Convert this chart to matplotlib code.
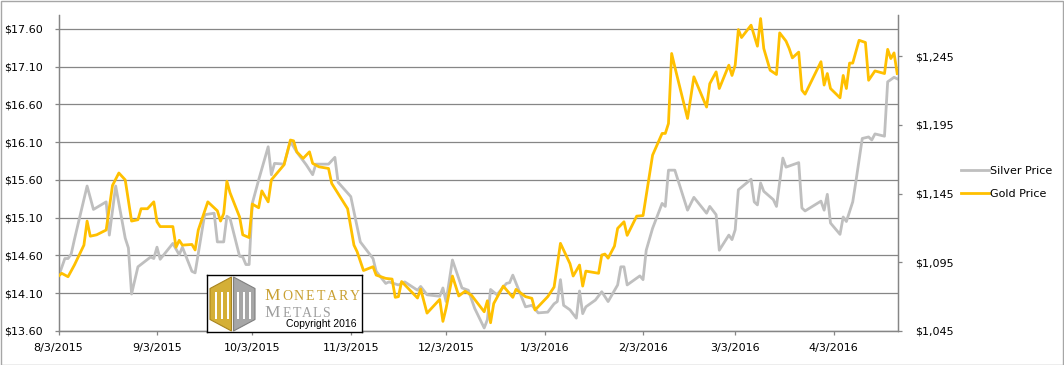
import numpy as np
import pandas as pd
import matplotlib
matplotlib.use("Agg")
import matplotlib.pyplot as plt
import matplotlib.dates as mdates
from matplotlib.patches import Polygon, Rectangle

# silver price (left axis)
silver_dates = [
    "2015-08-03", "2015-08-05", "2015-08-06", "2015-08-07", "2015-08-08", "2015-08-12", "2015-08-14",
    "2015-08-18", "2015-08-19", "2015-08-21", "2015-08-24", "2015-08-25", "2015-08-26", "2015-08-28",
    "2015-09-01", "2015-09-02", "2015-09-03", "2015-09-04", "2015-09-08", "2015-09-10", "2015-09-11",
    "2015-09-14", "2015-09-15", "2015-09-18", "2015-09-21", "2015-09-22", "2015-09-24", "2015-09-25",
    "2015-09-26", "2015-09-29", "2015-09-30", "2015-10-01", "2015-10-02", "2015-10-03", "2015-10-05",
    "2015-10-08", "2015-10-09", "2015-10-10", "2015-10-13", "2015-10-15", "2015-10-17", "2015-10-20",
    "2015-10-22", "2015-10-23", "2015-10-27", "2015-10-29", "2015-10-30", "2015-11-03", "2015-11-06",
    "2015-11-10", "2015-11-11", "2015-11-14", "2015-11-15", "2015-11-18", "2015-11-20", "2015-11-24",
    "2015-11-25", "2015-11-27", "2015-12-01", "2015-12-02", "2015-12-03", "2015-12-05", "2015-12-08",
    "2015-12-10", "2015-12-12", "2015-12-15", "2015-12-16", "2015-12-17", "2015-12-19", "2015-12-22",
    "2015-12-23", "2015-12-24", "2015-12-28", "2015-12-30", "2016-01-01", "2016-01-04", "2016-01-06",
    "2016-01-07", "2016-01-08", "2016-01-09", "2016-01-11", "2016-01-13", "2016-01-14", "2016-01-15",
    "2016-01-16", "2016-01-19", "2016-01-21", "2016-01-23", "2016-01-26", "2016-01-27", "2016-01-28",
    "2016-01-29", "2016-02-02", "2016-02-03", "2016-02-04", "2016-02-06", "2016-02-09", "2016-02-10",
    "2016-02-11", "2016-02-13", "2016-02-17", "2016-02-19", "2016-02-23", "2016-02-24", "2016-02-26",
    "2016-02-27", "2016-03-01", "2016-03-02", "2016-03-03", "2016-03-04", "2016-03-08", "2016-03-09",
    "2016-03-10", "2016-03-11", "2016-03-12", "2016-03-15", "2016-03-16", "2016-03-18", "2016-03-19",
    "2016-03-23", "2016-03-24", "2016-03-25", "2016-03-30", "2016-03-31", "2016-04-01", "2016-04-02",
    "2016-04-05", "2016-04-06", "2016-04-07", "2016-04-09", "2016-04-10", "2016-04-12", "2016-04-14",
    "2016-04-15", "2016-04-16", "2016-04-19", "2016-04-20", "2016-04-22", "2016-04-23",
]
silver_price = [
    14.32, 14.56, 14.56, 14.62, 14.81, 15.52, 15.21,
    15.31, 14.87, 15.52, 14.83, 14.70, 14.09, 14.45,
    14.58, 14.56, 14.71, 14.55, 14.76, 14.61, 14.71,
    14.39, 14.37, 15.14, 15.16, 14.78, 14.78, 15.12,
    15.09, 14.59, 14.58, 14.48, 14.48, 15.29, 15.60,
    16.04, 15.67, 15.82, 15.81, 16.11, 15.97, 15.80,
    15.67, 15.81, 15.81, 15.90, 15.57, 15.38, 14.78,
    14.56, 14.39, 14.23, 14.25, 14.21, 14.25, 14.14,
    14.19, 14.08, 14.06, 14.17, 13.99, 14.54, 14.17,
    14.14, 13.90, 13.64, 13.75, 14.15, 14.08, 14.23,
    14.24, 14.34, 13.92, 13.94, 13.84, 13.85, 13.96,
    13.99, 14.28, 13.94, 13.88, 13.77, 14.13, 13.83,
    13.92, 14.01, 14.12, 13.99, 14.21, 14.45, 14.45,
    14.21, 14.33, 14.28, 14.67, 14.96, 15.29, 15.25,
    15.73, 15.73, 15.20, 15.37, 15.16, 15.25, 15.14,
    14.67, 14.87, 14.81, 14.94, 15.47, 15.61, 15.31,
    15.27, 15.56, 15.45, 15.34, 15.25, 15.89, 15.77,
    15.83, 15.23, 15.19, 15.32, 15.20, 15.41, 15.03,
    14.88, 15.11, 15.05, 15.31, 15.58, 16.15, 16.17,
    16.13, 16.21, 16.18, 16.90, 16.96, 16.94,
]

# gold price (right axis)
gold_dates = [
    "2015-08-03", "2015-08-04", "2015-08-06", "2015-08-08", "2015-08-11", "2015-08-12", "2015-08-13",
    "2015-08-15", "2015-08-18", "2015-08-20", "2015-08-22", "2015-08-24", "2015-08-26", "2015-08-28",
    "2015-08-29", "2015-08-31", "2015-09-02", "2015-09-03", "2015-09-04", "2015-09-08", "2015-09-09",
    "2015-09-10", "2015-09-11", "2015-09-14", "2015-09-15", "2015-09-16", "2015-09-19", "2015-09-22",
    "2015-09-23", "2015-09-24", "2015-09-25", "2015-09-26", "2015-09-29", "2015-09-30", "2015-10-02",
    "2015-10-03", "2015-10-05", "2015-10-06", "2015-10-08", "2015-10-09", "2015-10-13", "2015-10-15",
    "2015-10-16", "2015-10-17", "2015-10-19", "2015-10-21", "2015-10-22", "2015-10-24", "2015-10-27",
    "2015-10-28", "2015-10-30", "2015-11-02", "2015-11-04", "2015-11-05", "2015-11-07", "2015-11-10",
    "2015-11-11", "2015-11-14", "2015-11-16", "2015-11-17", "2015-11-18", "2015-11-19", "2015-11-24",
    "2015-11-25", "2015-11-27", "2015-12-01", "2015-12-02", "2015-12-03", "2015-12-05", "2015-12-07",
    "2015-12-09", "2015-12-11", "2015-12-15", "2015-12-16", "2015-12-17", "2015-12-18", "2015-12-21",
    "2015-12-24", "2015-12-25", "2015-12-28", "2015-12-30", "2015-12-31", "2016-01-04", "2016-01-06",
    "2016-01-08", "2016-01-11", "2016-01-12", "2016-01-14", "2016-01-15", "2016-01-16", "2016-01-20",
    "2016-01-21", "2016-01-22", "2016-01-23", "2016-01-25", "2016-01-26", "2016-01-28", "2016-01-29",
    "2016-02-01", "2016-02-03", "2016-02-06", "2016-02-09", "2016-02-10", "2016-02-11", "2016-02-12",
    "2016-02-13", "2016-02-17", "2016-02-19", "2016-02-23", "2016-02-24", "2016-02-26", "2016-02-27",
    "2016-03-01", "2016-03-02", "2016-03-03", "2016-03-04", "2016-03-05", "2016-03-08", "2016-03-10",
    "2016-03-11", "2016-03-12", "2016-03-14", "2016-03-16", "2016-03-17", "2016-03-19", "2016-03-20",
    "2016-03-21", "2016-03-23", "2016-03-24", "2016-03-25", "2016-03-30", "2016-03-31", "2016-04-01",
    "2016-04-02", "2016-04-05", "2016-04-06", "2016-04-07", "2016-04-08", "2016-04-09", "2016-04-11",
    "2016-04-13", "2016-04-14", "2016-04-16", "2016-04-19", "2016-04-20", "2016-04-21", "2016-04-22",
    "2016-04-23",
]
gold_price = [
    1085, 1087, 1084.5, 1093, 1107.5, 1125, 1114,
    1115, 1118.5, 1151, 1160, 1155, 1125, 1126,
    1134, 1134, 1139, 1124.5, 1121, 1121, 1106,
    1111, 1107.5, 1108, 1104, 1118.5, 1139, 1132.5,
    1125, 1130.5, 1154, 1145.6, 1128, 1115, 1113,
    1137.4, 1134.7, 1147, 1139, 1155, 1166, 1184,
    1183.4, 1175.4, 1170.6, 1175.4, 1167, 1164.5, 1163.3,
    1152.4, 1145, 1134, 1107.5, 1102.7, 1089, 1091.8,
    1085.7, 1083.3, 1082.8, 1069.5, 1070, 1081, 1069,
    1075.5, 1058, 1068, 1052, 1061.5, 1085, 1070.5,
    1074, 1071, 1059, 1067, 1051, 1065, 1077.7,
    1069.5, 1075.3, 1070, 1068.8, 1060.3, 1070, 1077,
    1108.8, 1094, 1085, 1093, 1077.7, 1088.6, 1087,
    1100.3, 1101, 1098, 1106.8, 1119.7, 1124.5, 1114.6,
    1128.6, 1129, 1173, 1188.8, 1188.8, 1196, 1247,
    1237.2, 1199.7, 1230, 1208, 1225, 1233.6, 1221.5,
    1238.5, 1231, 1238.5, 1264.4, 1258.6, 1267.6, 1252.3,
    1272.4, 1250.6, 1234.8, 1231.7, 1262, 1256, 1250.6,
    1243.8, 1248, 1220.3, 1217.4, 1241, 1224, 1232.4,
    1221.5, 1214.7, 1231, 1221.5, 1240, 1240, 1256.6,
    1255, 1227.5, 1234.3, 1232.4, 1250, 1243.3, 1247.4,
    1232.4,
]

tick_dates = ["2015-08-03", "2015-09-03", "2015-10-03", "2015-11-03", "2015-12-03",
              "2016-01-03", "2016-02-03", "2016-03-03", "2016-04-03"]
tick_labels = ["8/3/2015", "9/3/2015", "10/3/2015", "11/3/2015", "12/3/2015",
               "1/3/2016", "2/3/2016", "3/3/2016", "4/3/2016"]
silver_ticks = [13.60, 14.10, 14.60, 15.10, 15.60, 16.10, 16.60, 17.10, 17.60]
gold_ticks = [1045, 1095, 1145, 1195, 1245]

GRID = "#868686"
SILVER = "#BFBFBF"
GOLD = "#FFC000"

W, H = 1064, 365
fig = plt.figure(figsize=(W / 100, H / 100), dpi=100)
plt.rcParams["font.family"] = "DejaVu Sans"

ax = fig.add_axes([58.5 / W, 1 - 331 / H, (898 - 58.5) / W, (331 - 15) / H])
ax2 = ax.twinx()

s_x = pd.to_datetime(silver_dates)
g_x = pd.to_datetime(gold_dates)
l1, = ax.plot(s_x, silver_price, color=SILVER, lw=2.0, label="Silver Price", zorder=3)
l2, = ax2.plot(g_x, gold_price, color=GOLD, lw=2.0, label="Gold Price", zorder=3)

ax.set_xlim(pd.Timestamp("2015-08-03"), pd.Timestamp("2016-04-23 06:00"))
ax.set_ylim(13.60, 17.785)
ax2.set_ylim(1045, 1275)

ax.set_yticks(silver_ticks)
ax.set_yticklabels([f"${v:.2f}" for v in silver_ticks])
ax2.set_yticks(gold_ticks)
ax2.set_yticklabels([f"${v:,.0f}" for v in gold_ticks])
ax.set_xticks(mdates.date2num(pd.to_datetime(tick_dates)))
ax.set_xticklabels(tick_labels)

ax.grid(axis="y", color=GRID, lw=0.9)
ax.set_axisbelow(True)
for a in (ax, ax2):
    a.spines["top"].set_visible(False)
    for side in ("left", "right", "bottom"):
        a.spines[side].set_color(GRID)
        a.spines[side].set_linewidth(0.9)
    a.tick_params(colors=GRID, labelcolor="black", labelsize=8, length=3, width=0.9)
ax.tick_params(axis="y", pad=8)
ax2.tick_params(axis="y", pad=9)
ax.tick_params(axis="x", pad=6)

fig.legend(handles=[l1, l2], loc="center left", bbox_to_anchor=(957 / W, 1 - 182.5 / H),
           frameon=False, fontsize=8, handlelength=2.5, handletextpad=0.1, labelspacing=1.2,
           borderaxespad=0)

# outer frame
fig.patches.append(Rectangle((0.5 / W, 0.5 / H), (W - 1.5) / W, (H - 1.5) / H,
                             transform=fig.transFigure, fill=False, ec="#a6a6a6", lw=1))

# logo box
lax = fig.add_axes([207 / W, 1 - 332 / H, 155 / W, 57 / H], zorder=10)
lax.set_xlim(207, 362)
lax.set_ylim(332, 275)
lax.set_xticks([])
lax.set_yticks([])
for s in lax.spines.values():
    s.set_color("black")
    s.set_linewidth(1)
lax.add_patch(Polygon([(231.5, 277), (210, 288.5), (210, 319.5), (231.5, 331)],
                      closed=True, fc="#D4AF37", ec="#A8841E", lw=0.8))
lax.add_patch(Polygon([(233.5, 277), (255, 288.5), (255, 319.5), (233.5, 331)],
                      closed=True, fc="#A6A6A6", ec="#7F7F7F", lw=0.8))
for xs in (215, 221, 227):
    lax.add_patch(Rectangle((xs, 292), 2.2, 27, fc="white", ec="none"))
for xs in (237, 243, 249):
    lax.add_patch(Rectangle((xs, 292), 2.2, 27, fc="white", ec="none"))

lax.text(272, 300, "M", fontsize=12.5, family="Liberation Serif", color="#C9A032", ha="center", va="baseline")
for i, ch in enumerate("ONETARY"):
    lax.text(287 + i * 11.3, 300, ch, fontsize=10, family="Liberation Serif", color="#C9A032",
             ha="center", va="baseline")
lax.text(272, 316.5, "M", fontsize=12.5, family="Liberation Serif", color="#9E9E9E", ha="center", va="baseline")
for i, ch in enumerate("ETALS"):
    lax.text(287 + i * 9.8, 316.5, ch, fontsize=10, family="Liberation Serif", color="#9E9E9E",
             ha="center", va="baseline")
lax.text(321, 324, "Copyright 2016", fontsize=7.5, family="Liberation Sans", color="black",
         ha="center", va="center")

fig.savefig("out.png", dpi=100)
